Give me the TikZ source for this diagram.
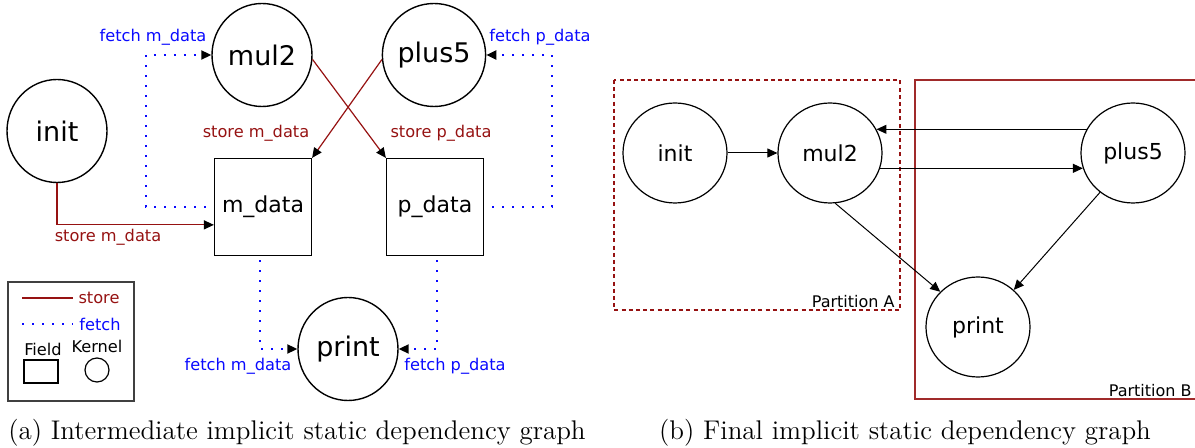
\documentclass[tikz,border=0pt]{standalone}
\usepackage{fontspec}
\newfontfamily\dejavu{DejaVu Sans}
\definecolor{storeRed}{RGB}{150, 18, 18}
\definecolor{fetchBlue}{RGB}{10, 10, 255}
\usetikzlibrary{shapes.geometric, arrows.meta, positioning, calc}

\tikzset{
  kernel/.style={draw, ellipse, line width=0.7pt, inner sep=0pt, minimum width=50pt, minimum height=51.5pt, font=\dejavu\fontsize{13.5}{16}\selectfont},
  kernelB/.style={draw, ellipse, line width=0.6pt, inner sep=0pt, minimum width=52pt, minimum height=50pt, font=\dejavu\fontsize{11}{13}\selectfont},
  field/.style={draw, rectangle, line width=0.6pt, inner sep=0pt, minimum size=48.5pt, font=\dejavu\fontsize{11}{13}\selectfont},
  store/.style={draw=storeRed, line width=0.6pt, -{Triangle[length=5pt,width=4.5pt]}, arrows={[color=black]}},
  fetch/.style={draw=fetchBlue, line width=1pt, dash pattern=on 1pt off 4pt, -{Triangle[length=5pt,width=4.5pt,color=black]}},
  dep/.style={draw, line width=0.5pt, -{Triangle[length=5pt,width=4.5pt]}},
  storelbl/.style={text=storeRed, inner sep=0pt, font=\dejavu\fontsize{8.1}{10}\selectfont},
  fetchlbl/.style={text=fetchBlue, inner sep=0pt, font=\dejavu\fontsize{8.1}{10}\selectfont},
  caption/.style={inner sep=0pt, font=\fontsize{13.5}{16}\selectfont}
}

\begin{document}
\begin{tikzpicture}[x=0.5pt, y=-0.5pt]
  \useasboundingbox (0,0) rectangle (1195,448);

  % (a) intermediate graph
  \node[kernel] (init) at (57,131) {init};
  \node[kernel] (mul2) at (262,55) {mul2};
  \node[kernel] (plus5) at (434,55) {plus5};
  \node[kernel] (print) at (348,349) {print};
  \node[field] (mdata) at (263,207) {m\_data};
  \node[field] (pdata) at (435,207) {p\_data};

  \draw[fetch, shorten <=4pt] (mdata.west) -- ++(-68,0) |- (mul2);
  \draw[fetch, shorten <=4pt] (pdata.east) -- ++(68,0) |- (plus5);
  \draw[fetch, shorten <=2pt] (mdata.south -| 260,0) |- (print);
  \draw[fetch, shorten <=2pt] (pdata.south -| 437,0) |- (print);
  \draw[store] (mul2.-5) -- (pdata.north west);
  \draw[store] (plus5.185) -- (mdata.north east);
  \draw[store] (init.south) |- (mdata.200);

  \node[fetchlbl] (fetchM) at (153,37) {fetch m\_data};
  \node[fetchlbl] (fetchP) at (540,37) {fetch p\_data};
  \node[storelbl] (storeM) at (256,133) {store m\_data};
  \node[storelbl] (storeP) at (441,133) {store p\_data};
  \node[storelbl] (storeI) at (108,237) {store m\_data};
  \node[fetchlbl] (fetchPrM) at (238,366) {fetch m\_data};
  \node[fetchlbl] (fetchPrP) at (455,366) {fetch p\_data};

  % legend
  \node[draw=black!75, line width=0.6pt, minimum width=63pt, minimum height=59.5pt, inner sep=0pt] (legend) at (71,341.5) {};
  \coordinate (ls1) at (22,298);
  \coordinate (ls2) at (73,298);
  \coordinate (lf1) at (22,324);
  \coordinate (lf2) at (73,324);
  \draw[storeRed, line width=0.6pt] (ls1) -- (ls2);
  \draw[fetchBlue, line width=1pt, dash pattern=on 1pt off 4pt] (lf1) -- (lf2);
  \node[storelbl] (lstore) at (99,298) {store};
  \node[fetchlbl] (lfetch) at (100,324) {fetch};
  \node[inner sep=0pt, font=\dejavu\fontsize{8.1}{10}\selectfont] (lfield) at (43,349) {Field};
  \node[inner sep=0pt, font=\dejavu\fontsize{8.1}{10}\selectfont] (lkernel) at (97,346) {Kernel};
  \node[draw, line width=0.6pt, minimum width=17pt, minimum height=11.5pt, inner sep=0pt] (lbox) at (41,371.5) {};
  \node[draw, circle, line width=0.6pt, minimum size=12pt, inner sep=0pt] (lcirc) at (97,370) {};

  \node[caption] (capA) at (297,433) {(a) Intermediate implicit static dependency graph};

  % (b) final graph
  \draw[storeRed, line width=0.6pt, dash pattern=on 2pt off 1.6pt] (614,80) rectangle (900,310);
  \draw[storeRed!90, line width=0.9pt] (1200,80) -- (915,80) -- (915,399) -- (1200,399);
  \node[anchor=south east, inner sep=0pt, font=\dejavu\fontsize{8}{10}\selectfont] (partA) at (895,308) {Partition A};
  \node[anchor=south east, inner sep=0pt, font=\dejavu\fontsize{8}{10}\selectfont] (partB) at (1192,397) {Partition B};

  \node[kernelB] (binit) at (675,153) {init};
  \node[kernelB] (bmul2) at (830,153) {mul2};
  \node[kernelB] (bplus5) at (1133,153) {plus5};
  \node[kernelB] (bprint) at (978,327) {print};

  \draw[dep] (binit) -- (bmul2);
  \draw[dep] (bplus5.153) -- (bmul2.27);
  \draw[dep] (bmul2.-17) -- (bplus5.197);
  \draw[dep] (bmul2.-84) -- (bprint.137);
  \draw[dep] (bplus5.230) -- (bprint.46);

  \node[caption] (capB) at (905,433) {(b) Final implicit static dependency graph};
\end{tikzpicture}
\end{document}
